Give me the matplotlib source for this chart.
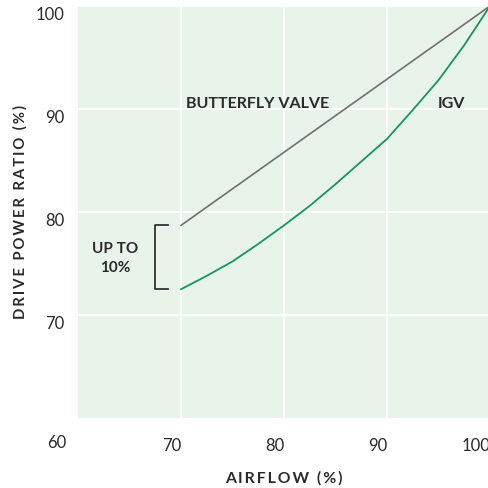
import numpy as np
import matplotlib.pyplot as plt

# data
airflow_bv = [70, 100]
power_bv = [78.7, 100]

airflow_igv = [70, 72.5, 75, 77.5, 80, 82.5, 85, 87.5, 90, 92.5, 95, 97.5, 100]
power_igv = [72.5, 73.8, 75.2, 76.9, 78.7, 80.6, 82.7, 84.9, 87.1, 89.9, 92.8, 96.2, 100]

xticks = [70, 80, 90, 100]
yticks = [70, 80, 90, 100]
corner_label = "60"

BG = "#e8f3ea"
GREEN = "#17955a"
GREY = "#707070"
TXT = "#2a2a2a"

plt.rcParams['font.family'] = ['Lato', 'DejaVu Sans']


def spaced(s):
    # fake letter spacing with thin spaces
    return "\u2009".join(s)


fig = plt.figure(figsize=(4.88, 4.89), dpi=100)
ax = fig.add_axes([78 / 488, 1 - 419 / 489, 412 / 488, 412 / 489])
ax.set_facecolor(BG)
ax.set_xlim(60, 100)
ax.set_ylim(60, 100)
for s in ax.spines.values():
    s.set_visible(False)

ax.grid(True, color="white", linewidth=1.5)
ax.set_axisbelow(True)

ax.plot(airflow_bv, power_bv, color=GREY, linewidth=1.2, clip_on=False)
ax.plot(airflow_igv, power_igv, color=GREEN, linewidth=1.3, clip_on=False)

# ticks: labels hang to the lower-left of each grid line
ax.set_xticks(xticks)
ax.set_xticklabels([str(t) for t in xticks], fontsize=12, color=TXT)
ax.set_yticks(yticks)
ax.set_yticklabels([str(t) for t in yticks], fontsize=12, color=TXT)
ax.tick_params(axis="x", length=0, pad=14)
ax.tick_params(axis="y", length=0, pad=10)
for lab in ax.get_xticklabels():
    lab.set_ha("right")
for lab in ax.get_yticklabels():
    lab.set_va("top")
ax.text(-0.028, -0.039, corner_label, transform=ax.transAxes, ha="right",
        va="top", fontsize=12, color=TXT)

# axis titles placed directly in figure coords
fig.text(284 / 488, 1 - 478 / 489, spaced("AIRFLOW (%)"), fontsize=11.3,
         fontweight="bold", color=TXT, ha="center", va="center")
fig.text(20 / 488, 1 - 212 / 489, spaced("DRIVE POWER RATIO (%)"),
         fontsize=10.7, fontweight="bold", color=TXT, ha="center",
         va="center", rotation=90)

# annotations
ax.text(70.5, 90.6, "BUTTERFLY VALVE", fontsize=11.5, fontweight="bold",
        color=TXT, ha="left", va="center")
ax.text(94.9, 90.6, "IGV", fontsize=11.5, fontweight="bold", color=TXT,
        ha="left", va="center")

bx0, bx1 = 67.48, 68.74
ax.plot([bx1, bx0, bx0, bx1], [power_bv[0], power_bv[0], power_igv[0], power_igv[0]],
        color="#333333", linewidth=1.3)
ax.text(63.6, (power_bv[0] + power_igv[0]) / 2, "UP TO\n10%", fontsize=11,
        fontweight="bold", color=TXT, ha="center", va="center",
        linespacing=1.4)

fig.savefig("out.png", dpi=100)
